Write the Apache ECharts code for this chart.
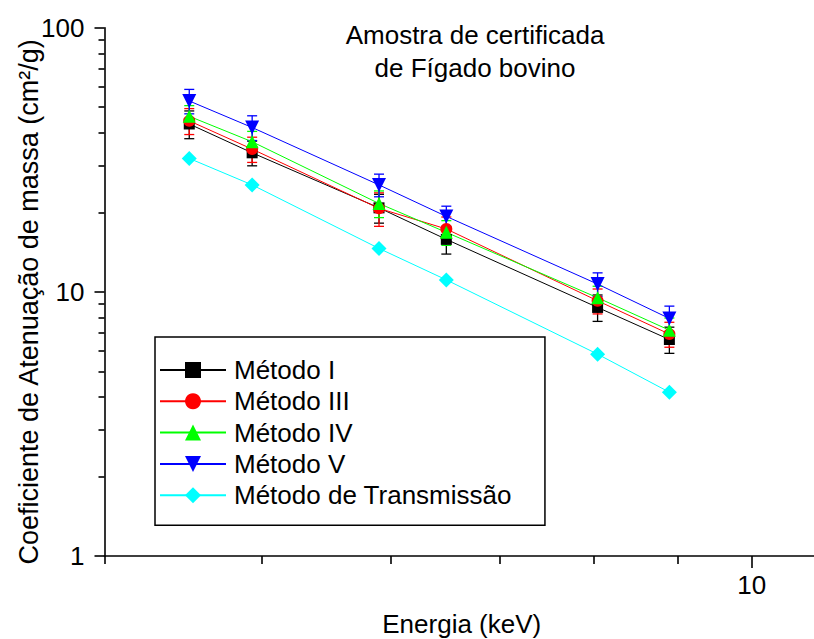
<!DOCTYPE html>
<html><head><meta charset="utf-8">
<script src="https://cdn.jsdelivr.net/npm/echarts@6/dist/echarts.min.js"></script>
<style>html,body{margin:0;padding:0;background:#fff}#c{width:814px;height:639px}</style>
</head><body><div id="c"></div>
<script>
// ---- data ----
const energies = [4.51, 4.93, 5.90, 6.49, 8.04, 8.90];
const seriesNames = ['Método I', 'Método III', 'Método IV', 'Método V', 'Método de Transmissão'];
const metodoI = [43.2, 33.6, 20.8, 15.8, 8.73, 6.6];
const metodoIErr = [5.2, 3.6, 2.6, 1.9, 1.0, 0.75];
const metodoIII = [44.4, 34.7, 20.7, 17.3, 9.25, 6.92];
const metodoIIIErr = [5.0, 3.8, 3.0, 1.9, 1.0, 0.75];
const metodoIV = [46.2, 37.0, 21.6, 16.8, 9.5, 7.16];
const metodoIVErr = [4.5, 3.5, 2.5, 1.8, 1.0, 0.8];
const metodoV = [52.8, 41.9, 25.4, 19.3, 10.7, 7.93];
const metodoVErr = [5.6, 4.5, 2.5, 1.8, 1.1, 0.9];
const transmissao = [32.0, 25.4, 14.6, 11.1, 5.81, 4.17];
const xMajorTicks = [10];
const xMinorTicks = [4, 5, 6, 7, 8, 9];
const yMajorTicks = [1, 10, 100];
const yMinorTicks = [2, 3, 4, 5, 6, 7, 8, 9, 20, 30, 40, 50, 60, 70, 80, 90];
const titleText = 'Amostra de certificada\nde Fígado bovino';
const xName = 'Energia (keV)';
const yName = 'Coeficiente de Atenuação de massa (cm²/g)';

// ---- styling ----
const FONT = '"Liberation Sans", Arial, Helvetica, sans-serif';
const colors = ['#000000', '#ff0000', '#00ff00', '#0000ff', '#00ffff'];
const symbols = ['rect', 'circle', 'triangle', 'triangle', 'diamond'];
const rotates = [0, 0, 0, 180, 0];
const sizes = [11, 12, 13, 14, 15];
const values = [metodoI, metodoIII, metodoIV, metodoV, transmissao];
const errors = [metodoIErr, metodoIIIErr, metodoIVErr, metodoVErr, null];

function errRender(color) {
  return function (params, api) {
    const x = api.value(0), lo = api.value(1), hi = api.value(2);
    const pHi = api.coord([x, hi]), pLo = api.coord([x, lo]);
    const w = 5;
    const style = { stroke: color, lineWidth: 1.3 };
    return { type: 'group', children: [
      { type: 'line', shape: { x1: pHi[0], y1: pHi[1], x2: pLo[0], y2: pLo[1] }, style: style },
      { type: 'line', shape: { x1: pHi[0] - w, y1: pHi[1], x2: pHi[0] + w, y2: pHi[1] }, style: style },
      { type: 'line', shape: { x1: pLo[0] - w, y1: pLo[1], x2: pLo[0] + w, y2: pLo[1] }, style: style }
    ] };
  };
}

const series = [];
values.forEach(function (vals, k) {
  series.push({
    name: seriesNames[k], type: 'line',
    data: energies.map(function (e, i) { return [e, vals[i]]; }),
    symbol: symbols[k], symbolRotate: rotates[k], symbolSize: sizes[k],
    lineStyle: { color: colors[k], width: 1 },
    itemStyle: { color: colors[k] },
    emphasis: { disabled: true }, animation: false, clip: false
  });
  if (errors[k]) {
    const err = errors[k];
    series.push({
      name: 'err' + k, type: 'custom',
      data: energies.map(function (e, i) { return [e, vals[i] - err[i], vals[i] + err[i]]; }),
      encode: { x: 0, y: [1, 2] },
      renderItem: errRender(colors[k]),
      animation: false, clip: false, silent: true
    });
  }
});

const axisLineStyle = { color: '#000', width: 1.6 };
const option = {
  backgroundColor: '#fff',
  animation: false,
  title: {
    text: titleText, left: 470, top: 13, textAlign: 'center',
    textStyle: { fontFamily: FONT, fontSize: 26, fontWeight: 'normal', color: '#000', lineHeight: 33 }
  },
  grid: { left: 104.5, top: 27.7, width: 714.5, height: 528.3, containLabel: false, outerBoundsMode: 'none' },
  legend: {
    data: seriesNames, orient: 'vertical', left: 155, top: 337,
    padding: [20, 33, 17, 4], itemWidth: 66, itemHeight: 20, itemGap: 5.3,
    borderColor: '#000', borderWidth: 1.5, backgroundColor: '#fff',
    textStyle: { fontFamily: FONT, fontSize: 26, color: '#000', lineHeight: 26, padding: [0, 0, 0, 3] },
    selectedMode: false
  },
  xAxis: [
    {
      type: 'log', logBase: 10, min: 4, max: 11, position: 'bottom',
      axisLine: { onZero: false, lineStyle: axisLineStyle },
      axisTick: { customValues: xMajorTicks, length: 12, lineStyle: { color: '#000', width: 1.6 } },
      axisLabel: { customValues: xMajorTicks, fontFamily: FONT, fontSize: 26, color: '#000', margin: 16 },
      splitLine: { show: false }, minorTick: { show: false },
      name: xName, nameLocation: 'middle', nameGap: 55, nameMoveOverlap: false,
      nameTextStyle: { fontFamily: FONT, fontSize: 26, color: '#000' }
    },
    {
      type: 'log', logBase: 10, min: 4, max: 11, position: 'bottom', gridIndex: 0,
      axisLine: { show: false, onZero: false },
      axisTick: { customValues: xMinorTicks, length: 8, lineStyle: { color: '#000', width: 1.6 } },
      axisLabel: { show: false }, splitLine: { show: false }
    }
  ],
  yAxis: [
    {
      type: 'log', logBase: 10, min: 1, max: 100, position: 'left',
      axisLine: { onZero: false, lineStyle: axisLineStyle },
      axisTick: { customValues: yMajorTicks, length: 10, lineStyle: { color: '#000', width: 1.6 } },
      axisLabel: { customValues: yMajorTicks, fontFamily: FONT, fontSize: 26, color: '#000', margin: 20 },
      splitLine: { show: false },
      name: yName, nameLocation: 'middle', nameGap: 62, nameRotate: 90, nameMoveOverlap: false,
      nameTextStyle: { fontFamily: FONT, fontSize: 27, color: '#000', padding: [0, 20, 0, 0] }
    },
    {
      type: 'log', logBase: 10, min: 1, max: 100, position: 'left', gridIndex: 0,
      axisLine: { show: false, onZero: false },
      axisTick: { customValues: yMinorTicks, length: 6, lineStyle: { color: '#000', width: 1.6 } },
      axisLabel: { show: false }, splitLine: { show: false }
    }
  ],
  series: series
};
const chart = echarts.init(document.getElementById('c'), null, { renderer: 'svg' });
chart.setOption(option);
</script>
</body></html>
